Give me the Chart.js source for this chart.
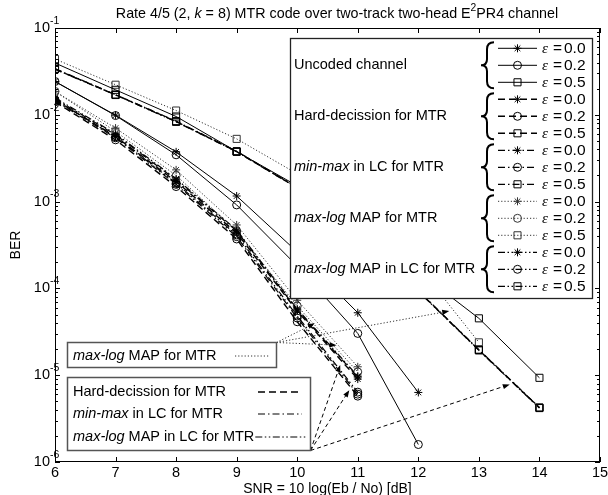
<!DOCTYPE html>
<html>
<head>
<meta charset="utf-8">
<script src="https://cdn.jsdelivr.net/npm/chart.js@4.4.1/dist/chart.umd.min.js"></script>
<style>
  html, body { margin: 0; padding: 0; background: #fff; }
  #wrap { width: 608px; height: 495px; }
</style>
</head>
<body>
<div id="wrap"><canvas id="ber" width="608" height="495"></canvas></div>
<script>
// SNR points [dB]
const snr = [6, 7, 8, 9, 10, 11, 12, 13, 14];

// BER (eps = 0.0 / 0.2 / 0.5)
const uncoded00 = [2.42e-2, 9.9e-3, 3.74e-3, 1.16e-3, 2.63e-4, 5.24e-5, 6.33e-6];
const uncoded02 = [2.42e-2, 9.8e-3, 3.46e-3, 9.16e-4, 1.81e-4, 3.03e-5, 1.59e-6];
const uncoded05 = [3.95e-2, 1.94e-2, 9.56e-3, 3.77e-3, 1.52e-3, 4.97e-4, 1.55e-4, 4.52e-5, 9.33e-6];

const hard00 = [1.49e-2, 5.62e-3, 1.70e-3, 4.36e-4, 5.48e-5, 9.02e-6];
const hard02 = [1.41e-2, 5.15e-3, 1.49e-3, 3.71e-4, 4.13e-5, 5.74e-6];
const hard05 = [3.37e-2, 1.70e-2, 8.37e-3, 3.77e-3, 1.44e-3, 3.81e-4, 9.33e-5, 1.95e-5, 4.21e-6];

const minmax00 = [1.53e-2, 5.88e-3, 1.78e-3, 4.59e-4, 5.64e-5, 9.5e-6];
const minmax02 = [1.45e-2, 5.43e-3, 1.58e-3, 3.95e-4, 4.56e-5, 6.05e-6];
const minmax05 = [3.40e-2, 1.71e-2, 8.45e-3, 3.80e-3, 1.46e-3, 3.85e-4, 9.4e-5, 1.97e-5, 4.25e-6];

const maxlog00 = [1.86e-2, 7.03e-3, 2.32e-3, 5.38e-4, 7.3e-5, 1.25e-5];
const maxlog02 = [1.86e-2, 6.42e-3, 2.0e-3, 4.59e-4, 6.26e-5, 1.09e-5];
const maxlog05 = [4.39e-2, 2.22e-2, 1.12e-2, 5.28e-3, 2.09e-3, 6.48e-4, 1.81e-4, 2.39e-5];

const lc00 = [1.57e-2, 6.04e-3, 1.83e-3, 4.72e-4, 5.79e-5, 9.76e-6];
const lc02 = [1.49e-2, 5.57e-3, 1.63e-3, 4.13e-4, 4.80e-5, 6.38e-6];
const lc05 = [3.35e-2, 1.69e-2, 8.30e-3, 3.75e-3, 1.43e-3, 3.78e-4, 9.25e-5, 1.93e-5, 4.18e-6];

const xTicks = [6, 7, 8, 9, 10, 11, 12, 13, 14, 15];
const yTicks = [-1, -2, -3, -4, -5, -6];
const epsLabels = ['0.0', '0.2', '0.5'];

const FONT = '"Liberation Sans", Arial, sans-serif';

const styles = {
  solid: { dash: [], width: 1, color: '#000' },
  dashed: { dash: [7, 4], width: 1.4, color: '#000' },
  dashdot: { dash: [7, 3, 1.5, 3], width: 1.2, color: '#000' },
  dotted: { dash: [1.2, 2], width: 1, color: '#333' },
  dashdotdot: { dash: [7, 2.5, 1.5, 2.5, 1.5, 2.5], width: 1.2, color: '#000' }
};
const markers = [['star', 4], ['circle', 4], ['rect', 5]];

function series(label, vals, st, m) {
  const s = styles[st];
  return {
    label: label,
    data: vals.map((v, i) => ({ x: snr[i], y: v })),
    borderColor: s.color, borderWidth: s.width, borderDash: s.dash,
    pointStyle: markers[m][0], pointRadius: markers[m][1],
    pointBorderColor: s.color, pointBackgroundColor: 'rgba(0,0,0,0)', pointBorderWidth: 1,
    tension: 0, fill: false
  };
}

const groups = [
  { name: [['Uncoded channel', false]], st: 'solid', sets: [uncoded00, uncoded02, uncoded05] },
  { name: [['Hard-decission for MTR', false]], st: 'dashed', sets: [hard00, hard02, hard05] },
  { name: [['min-max', true], [' in LC for MTR', false]], st: 'dashdot', sets: [minmax00, minmax02, minmax05] },
  { name: [['max-log', true], [' MAP for MTR', false]], st: 'dotted', sets: [maxlog00, maxlog02, maxlog05] },
  { name: [['max-log', true], [' MAP in LC for MTR', false]], st: 'dashdotdot', sets: [lc00, lc02, lc05] }
];

const datasets = [];
groups.forEach(g => g.sets.forEach((vals, m) => datasets.push(series(g.name.map(p => p[0]).join('') + ' eps=' + epsLabels[m], vals, g.st, m))));

function setFont(ctx, size, italic, family) {
  ctx.font = (italic ? 'italic ' : '') + size + 'px ' + (family || FONT);
}

// parts: [text, italic, sup]
function richText(ctx, parts, x, y, size, align) {
  let total = 0;
  parts.forEach(p => { setFont(ctx, p[2] ? size * 0.72 : size, p[1]); total += ctx.measureText(p[0]).width; });
  let cx = align === 'center' ? x - total / 2 : (align === 'right' ? x - total : x);
  ctx.textAlign = 'left';
  ctx.textBaseline = 'middle';
  parts.forEach(p => {
    setFont(ctx, p[2] ? size * 0.72 : size, p[1]);
    ctx.fillText(p[0], cx, p[2] ? y - size * 0.4 : y);
    cx += ctx.measureText(p[0]).width;
  });
  return total;
}

function marker(ctx, kind, x, y, r, color) {
  ctx.save();
  ctx.setLineDash([]);
  ctx.strokeStyle = color;
  ctx.lineWidth = 1;
  ctx.beginPath();
  if (kind === 'star') {
    for (let k = 0; k < 4; k++) {
      const a = k * Math.PI / 4;
      ctx.moveTo(x - r * Math.cos(a), y - r * Math.sin(a));
      ctx.lineTo(x + r * Math.cos(a), y + r * Math.sin(a));
    }
  } else if (kind === 'circle') {
    ctx.arc(x, y, r, 0, Math.PI * 2);
  } else {
    const h = r * Math.SQRT1_2;
    ctx.rect(x - h, y - h, 2 * h, 2 * h);
  }
  ctx.stroke();
  ctx.restore();
}

function styledLine(ctx, st, x0, y0, x1, y1) {
  const s = styles[st];
  ctx.save();
  ctx.strokeStyle = s.color;
  ctx.lineWidth = s.width;
  ctx.setLineDash(s.dash);
  ctx.beginPath();
  ctx.moveTo(x0, y0);
  ctx.lineTo(x1, y1);
  ctx.stroke();
  ctx.restore();
}

function arrow(ctx, x0, y0, x1, y1, dash, color) {
  const a = Math.atan2(y1 - y0, x1 - x0);
  const L = 7, W = 2.6;
  ctx.save();
  ctx.strokeStyle = color;
  ctx.lineWidth = 1;
  ctx.setLineDash(dash);
  ctx.beginPath();
  ctx.moveTo(x0, y0);
  ctx.lineTo(x1 - L * 0.8 * Math.cos(a), y1 - L * 0.8 * Math.sin(a));
  ctx.stroke();
  ctx.setLineDash([]);
  ctx.fillStyle = '#000';
  const bx = x1 - L * Math.cos(a), by = y1 - L * Math.sin(a);
  ctx.beginPath();
  ctx.moveTo(x1, y1);
  ctx.lineTo(bx + W * Math.sin(a), by - W * Math.cos(a));
  ctx.lineTo(bx - W * Math.sin(a), by + W * Math.cos(a));
  ctx.closePath();
  ctx.fill();
  ctx.restore();
}

function brace(ctx, xl, yc, h) {
  const xm = xl + 6, xr = xl + 13;
  ctx.save();
  ctx.strokeStyle = '#000';
  ctx.lineWidth = 2;
  ctx.setLineDash([]);
  ctx.beginPath();
  ctx.moveTo(xr, yc - h);
  ctx.quadraticCurveTo(xm, yc - h, xm, yc - h + 7);
  ctx.lineTo(xm, yc - 6);
  ctx.quadraticCurveTo(xm, yc, xl, yc);
  ctx.quadraticCurveTo(xm, yc, xm, yc + 6);
  ctx.lineTo(xm, yc + h - 7);
  ctx.quadraticCurveTo(xm, yc + h, xr, yc + h);
  ctx.stroke();
  ctx.restore();
}

const decor = {
  id: 'decor',
  afterDatasetsDraw(chart) {
    const ctx = chart.ctx;
    const xs = chart.scales.x, ys = chart.scales.y;
    const a = chart.chartArea;
    ctx.save();
    ctx.fillStyle = '#000';

    // frame
    ctx.strokeStyle = '#000';
    ctx.lineWidth = 1;
    ctx.strokeRect(a.left + 0.5, a.top + 0.5, a.right - a.left - 1, a.bottom - a.top - 1);

    // x ticks
    ctx.beginPath();
    xTicks.forEach(v => {
      const px = Math.round(xs.getPixelForValue(v)) + 0.5;
      ctx.moveTo(px, a.bottom); ctx.lineTo(px, a.bottom - 5);
      ctx.moveTo(px, a.top); ctx.lineTo(px, a.top + 5);
    });
    // y ticks (major + minor)
    for (let d = -6; d <= -1; d++) {
      for (let m = 1; m <= 9; m++) {
        const v = m * Math.pow(10, d);
        if (v > 0.1 + 1e-12) break;
        const py = Math.round(ys.getPixelForValue(v)) + 0.5;
        const len = m === 1 ? 5 : 3;
        ctx.moveTo(a.left, py); ctx.lineTo(a.left + len, py);
        ctx.moveTo(a.right, py); ctx.lineTo(a.right - len, py);
      }
    }
    ctx.stroke();

    // tick labels
    ctx.textBaseline = 'middle';
    xTicks.forEach(v => {
      setFont(ctx, 14.5);
      ctx.textAlign = 'center';
      ctx.fillText(String(v), xs.getPixelForValue(v), a.bottom + 11);
    });
    yTicks.forEach(e => {
      const py = ys.getPixelForValue(Math.pow(10, e));
      setFont(ctx, 14.5);
      ctx.textAlign = 'right';
      ctx.fillText('10', a.left - 5, py);
      setFont(ctx, 10.5);
      ctx.textAlign = 'left';
      ctx.fillText(String(e), a.left - 5, py - 7);
    });

    // titles
    richText(ctx, [['SNR = 10 log(Eb / No) [dB]', false]], (a.left + a.right) / 2, a.bottom + 27, 14, 'center');
    ctx.save();
    ctx.translate(16, (a.top + a.bottom) / 2);
    ctx.rotate(-Math.PI / 2);
    richText(ctx, [['BER', false]], 0, 0, 14, 'center');
    ctx.restore();
    richText(ctx, [['Rate 4/5 (2, ', false], ['k', true], [' = 8) MTR code over two-track two-head E', false], ['2', false, true], ['PR4 channel', false]], 337, 14, 14.3, 'center');

    // annotation boxes with arrows (arrow tips in data units)
    const b1 = { x0: 67.5, y0: 342.5, x1: 276.5, y1: 367.5 };
    const b2 = { x0: 67.5, y0: 377.5, x1: 310.5, y1: 450.5 };
    const dotTips = [[10.29, 3.96e-5], [10.65, 2.22e-5], [12.51, 5.48e-5]];
    const dashTips = [[10.71, 1.31e-5], [10.86, 6.73e-6], [13.51, 7.83e-6]];
    dotTips.forEach(t => arrow(ctx, b1.x1, b1.y0, xs.getPixelForValue(t[0]), ys.getPixelForValue(t[1]), [1.2, 2], '#333'));
    dashTips.forEach(t => arrow(ctx, b2.x1, b2.y1, xs.getPixelForValue(t[0]), ys.getPixelForValue(t[1]), [4, 3], '#000'));

    [b1, b2].forEach(b => {
      ctx.fillStyle = '#fff';
      ctx.fillRect(b.x0, b.y0, b.x1 - b.x0, b.y1 - b.y0);
      ctx.strokeStyle = '#555';
      ctx.lineWidth = 1.5;
      ctx.setLineDash([]);
      ctx.strokeRect(b.x0, b.y0, b.x1 - b.x0, b.y1 - b.y0);
    });
    ctx.fillStyle = '#000';
    richText(ctx, [['max-log', true], [' MAP for MTR', false]], 73, 355.5, 14.5, 'left');
    styledLine(ctx, 'dotted', 235, 356, 270, 356);
    richText(ctx, [['Hard-decission for MTR', false]], 73, 391.5, 14.5, 'left');
    styledLine(ctx, 'dashed', 258, 392, 302, 392);
    ctx.fillStyle = '#000';
    richText(ctx, [['min-max', true], [' in LC for MTR', false]], 73, 414, 14.5, 'left');
    styledLine(ctx, 'dashdot', 258, 414, 302, 414);
    ctx.fillStyle = '#000';
    const w3 = richText(ctx, [['max-log', true], [' MAP in LC for MTR', false]], 73, 436.5, 14.5, 'left');
    styledLine(ctx, 'dashdotdot', 73 + w3 + 1, 437, 306, 437);

    // main legend
    const L = { x0: 290.5, y0: 38.5, x1: 592.5, y1: 298.5 };
    ctx.fillStyle = '#fff';
    ctx.fillRect(L.x0, L.y0, L.x1 - L.x0, L.y1 - L.y0);
    ctx.strokeStyle = '#222';
    ctx.lineWidth = 1.3;
    ctx.strokeRect(L.x0, L.y0, L.x1 - L.x0, L.y1 - L.y0);
    groups.forEach((g, gi) => {
      const ym = 48.3 + (gi * 3 + 1) * 17;
      ctx.fillStyle = '#000';
      richText(ctx, g.name, 294, ym, 14.5, 'left');
      brace(ctx, 481, ym, 23);
      for (let e = 0; e < 3; e++) {
        const y = 48.3 + (gi * 3 + e) * 17;
        styledLine(ctx, g.st, 498, y, 537, y);
        marker(ctx, markers[e][0], 517.5, y, markers[e][1], styles[g.st].color);
        ctx.fillStyle = '#000';
        setFont(ctx, 15, true, '"Liberation Serif", serif');
        ctx.textAlign = 'left';
        ctx.textBaseline = 'middle';
        ctx.fillText('\u03b5', 542, y + 1);
        setFont(ctx, 15.5);
        ctx.fillText('=', 553, y);
        ctx.fillText(epsLabels[e], 564, y);
      }
    });
    ctx.restore();
  }
};

new Chart(document.getElementById('ber'), {
  type: 'line',
  data: { datasets: datasets },
  options: {
    responsive: false,
    animation: false,
    layout: { padding: { left: 55, right: 8, top: 28, bottom: 33 } },
    plugins: { legend: { display: false }, tooltip: { enabled: false }, title: { display: false } },
    scales: {
      x: { type: 'linear', min: 6, max: 15, display: false },
      y: { type: 'logarithmic', min: 1e-6, max: 1e-1, display: false }
    }
  },
  plugins: [decor]
});
</script>
</body>
</html>
